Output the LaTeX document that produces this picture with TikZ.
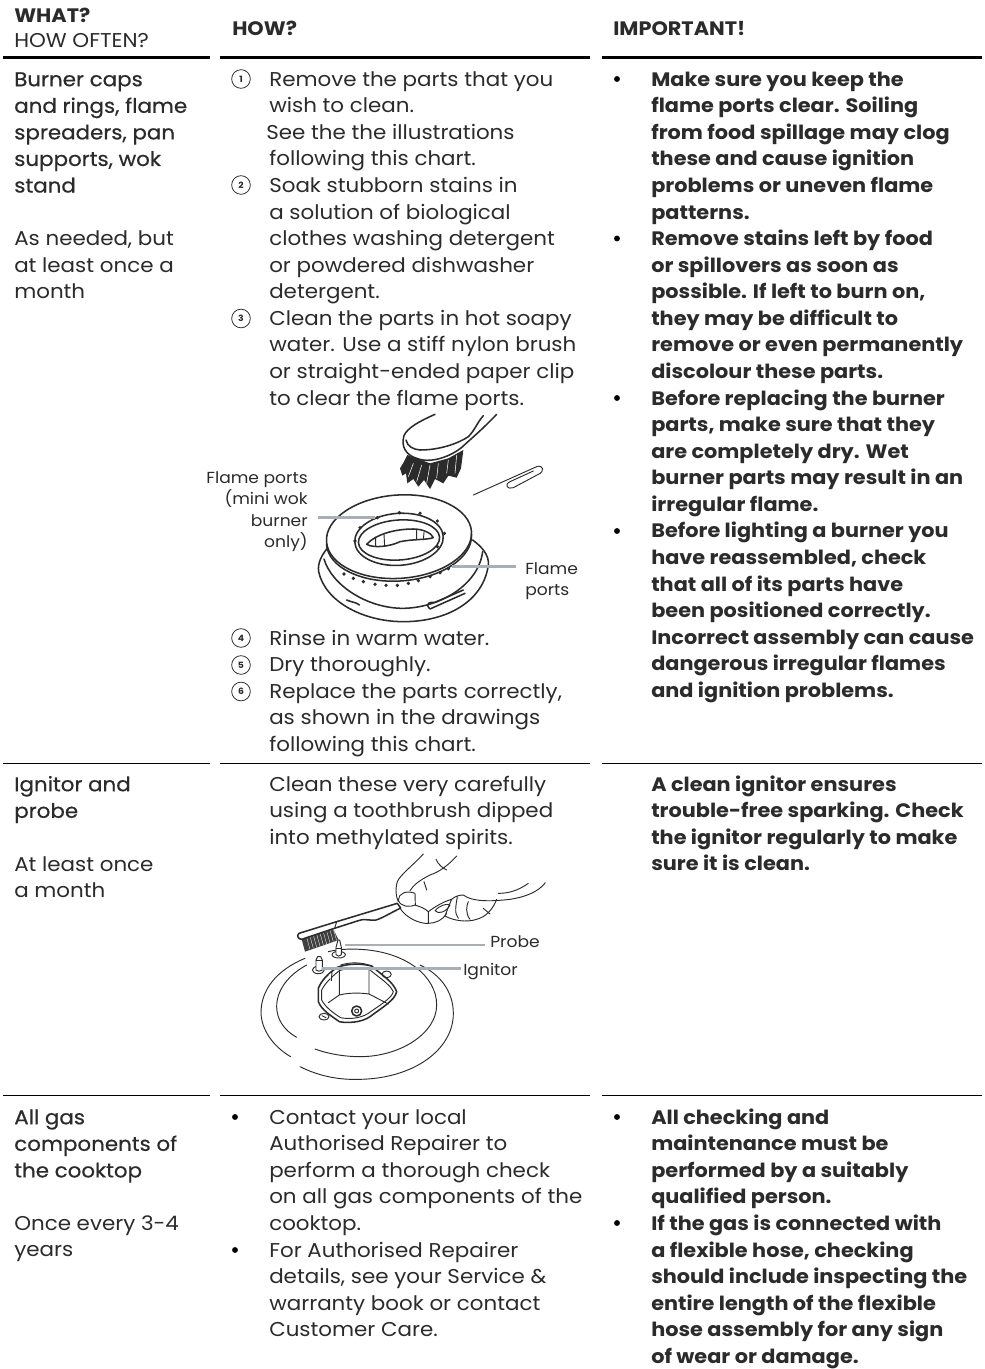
\documentclass[tikz,border=0pt]{standalone}
\usepackage{fontspec}
\setmainfont{Poppins}[FakeStretch=1.07]
\newcommand\st{\rule{0pt}{14pt}}
\newcommand\bodyf{\fontsize{15pt}{19.93pt}\selectfont}
\newcommand\boldf{\fontsize{14.6pt}{19.93pt}\selectfont\bfseries}
\newcommand\medf{\fontsize{15pt}{19.93pt}\selectfont\addfontfeature{FakeBold=0.5}}
\newcommand\lblf{\fontsize{12pt}{16pt}\selectfont}
\definecolor{ink}{HTML}{2B2B2B}
\definecolor{leader}{HTML}{A9B0B5}
\tikzset{
  x=0.75pt,y=-0.75pt,
  txt/.style={anchor=north west,inner sep=0pt,align=left,text=ink,font=\bodyf},
  med/.style={txt,font=\medf},
  bld/.style={txt,font=\boldf},
  heavy/.style={line width=2.3pt,black},
  thin rule/.style={line width=0.75pt,black},
  numc/.style={circle,draw=ink,line width=0.6pt,minimum size=14pt,inner sep=0pt,font=\fontsize{6.5pt}{7pt}\selectfont\bfseries,text=ink},
  bul/.style={circle,fill=black,minimum size=4.4pt,inner sep=0pt},
  lbl/.style={inner sep=0pt,text=ink,font=\lblf},
  lead/.style={line width=2pt,leader},
  art/.style={line width=1.15pt,ink,line cap=round,line join=round},
  fine/.style={line width=0.7pt,ink,line cap=round,line join=round},
  zoomA/.style={x=0.25pt,y=-0.25pt,xshift=150pt,yshift=-303.75pt},
  zoomB/.style={x=0.25pt,y=-0.25pt,xshift=187.5pt,yshift=-637.5pt},
}
\begin{document}
\begin{tikzpicture}
\useasboundingbox[fill=white] (0,0) rectangle (984,1369);
% rules
\coordinate (h1a) at (3,57.5); \coordinate (h1b) at (210,57.5);
\coordinate (h2a) at (220,57.5); \coordinate (h2b) at (590,57.5);
\coordinate (h3a) at (602,57.5); \coordinate (h3b) at (982,57.5);
\draw[heavy] (h1a)--(h1b); \draw[heavy] (h2a)--(h2b); \draw[heavy] (h3a)--(h3b);
\coordinate (r1a) at (3,763); \coordinate (r1b) at (210,763);
\coordinate (r2a) at (220,763); \coordinate (r2b) at (590,763);
\coordinate (r3a) at (602,763); \coordinate (r3b) at (982,763);
\draw[thin rule] (r1a)--(r1b); \draw[thin rule] (r2a)--(r2b); \draw[thin rule] (r3a)--(r3b);
\coordinate (s1a) at (3,1095.5); \coordinate (s1b) at (210,1095.5);
\coordinate (s2a) at (220,1095.5); \coordinate (s2b) at (590,1095.5);
\coordinate (s3a) at (602,1095.5); \coordinate (s3b) at (982,1095.5);
\draw[thin rule] (s1a)--(s1b); \draw[thin rule] (s2a)--(s2b); \draw[thin rule] (s3a)--(s3b);
% headers
\node[bld] (hwhat) at (14,4) {\st WHAT?};
\node[txt] (hoften) at (14,29) {\st HOW OFTEN?};
\node[bld] (hhow) at (232,16.3) {\st HOW?};
\node[bld] (himp) at (613,16.3) {\st IMPORTANT!};
% column 1
\node[med] (w1) at (14,67.3) {\st Burner caps\\and rings, flame\\spreaders, pan\\supports, wok\\stand};
\node[txt] (o1) at (14,226.8) {\st As needed, but\\at least once a\\month};
\node[med] (w2) at (14,772.3) {\st Ignitor and\\probe};
\node[txt] (o2) at (14,852.3) {\st At least once\\a month};
\node[med] (w3) at (14,1105.3) {\st All gas\\components of\\the cooktop};
\node[txt] (o3) at (14,1211.3) {\st Once every 3-4\\years};
% column 2
\node[txt] (how1) at (269,67.3) {\st Remove the parts that you\\wish to clean.\\\hspace*{-2.2pt}See the the illustrations\\following this chart.\\Soak stubborn stains in\\a solution of biological\\clothes washing detergent\\or powdered dishwasher\\detergent.\\Clean the parts in hot soapy\\water. Use a stiff nylon brush\\or straight-ended paper clip\\to clear the flame ports.};
\node[numc] (n1) at (241,79) {1};
\node[numc] (n2) at (241,185) {2};
\node[numc] (n3) at (241,318.5) {3};
\node[txt] (how2) at (269,626.3) {\st Rinse in warm water.\\Dry thoroughly.\\Replace the parts correctly,\\as shown in the drawings\\following this chart.};
\node[numc] (n4) at (241,638) {4};
\node[numc] (n5) at (241,665) {5};
\node[numc] (n6) at (241,691.5) {6};
\node[txt] (how3) at (269,772.3) {\st Clean these very carefully\\using a toothbrush dipped\\into methylated spirits.};
\node[txt] (how4) at (269,1105.3) {\st Contact your local\\Authorised Repairer to\\perform a thorough check\\on all gas components of the\\cooktop.\\For Authorised Repairer\\details, see your Service \&\\warranty book or contact\\Customer Care.};
\node[bul] (b21) at (235,1117) {};
\node[bul] (b22) at (235,1250) {};
% column 3
\node[bld] (imp1) at (651,67.3) {\st Make sure you keep the\\flame ports clear. Soiling\\from food spillage may clog\\these and cause ignition\\problems or uneven flame\\patterns.\\Remove stains left by food\\or spillovers as soon as\\possible. If left to burn on,\\they may be difficult to\\remove or even permanently\\discolour these parts.\\Before replacing the burner\\parts, make sure that they\\are completely dry. Wet\\burner parts may result in an\\irregular flame.\\Before lighting a burner you\\have reassembled, check\\that all of its parts have\\been positioned correctly.\\Incorrect assembly can cause\\dangerous irregular flames\\and ignition problems.};
\node[bul] (b31) at (617,79) {};
\node[bul] (b32) at (617,238.5) {};
\node[bul] (b33) at (617,398) {};
\node[bul] (b34) at (617,531) {};
\node[bld] (imp2) at (651,772.3) {\st A clean ignitor ensures\\trouble-free sparking. Check\\the ignitor regularly to make\\sure it is clean.};
\node[bld] (imp3) at (651,1105.3) {\st All checking and\\maintenance must be\\performed by a suitably\\qualified person.\\If the gas is connected with\\a flexible hose, checking\\should include inspecting the\\entire length of the flexible\\hose assembly for any sign\\of wear or damage.};
\node[bul] (b35) at (617,1117) {};
\node[bul] (b36) at (617,1223) {};
% burner illustration
\begin{scope}[zoomA]
  % brush 1
  \fill[ink] (622,150) -- (612,170) -- (600,190) -- (607,212) -- (618,205) -- (622,235) -- (640,222) -- (655,245) -- (672,225) -- (690,252) -- (705,222) -- (730,235) -- (745,212) -- (770,218) -- (783,190) -- (790,135) -- (745,160) -- (690,175) -- cycle;
  \draw[white,line width=0.4pt] (640,175)--(625,215) (665,180)--(650,230) (690,180)--(680,235) (715,175)--(710,220) (745,165)--(740,205) (770,150)--(765,205);
  \draw[art,fill=white] (705,28) .. controls (660,48) and (622,68) .. (612,92) .. controls (602,125) and (618,150) .. (650,160) .. controls (700,180) and (770,145) .. (795,118) .. controls (815,100) and (850,70) .. (890,28);
  \draw[art] (850,32) .. controls (830,55) and (825,75) .. (805,95) .. controls (775,115) and (720,135) .. (660,135) .. controls (640,133) and (622,125) .. (618,105);
  % paper clip
  \draw[fine] (820,270) -- (1010,185) .. controls (1030,178) and (1035,200) .. (1015,208) -- (940,248) .. controls (922,255) and (912,238) .. (930,230) -- (1000,198);
  % cap
  \draw[art,rotate around={4:(597,395)}] (597,395) ellipse [x radius=218,y radius=125];
  \draw[art,rotate around={4:(597,403)}] (379,403) arc [start angle=180,end angle=0,x radius=218,y radius=125];
  \draw[art,rotate around={4:(597,403)}] (597,403) ellipse [x radius=133,y radius=78];
  \draw[art,rotate around={4:(597,405)}] (597,405) ellipse [x radius=122,y radius=60];
  \draw[art,fill=white] (500,418) .. controls (525,390) and (580,372) .. (640,372) .. controls (670,372) and (695,385) .. (700,398) .. controls (680,405) and (640,402) .. (600,410) .. controls (570,425) and (520,430) .. (500,418) -- cycle;
  \draw[fine] (527,396)--(527,422) (552,388)--(554,425) (650,376)--(650,404) (672,382)--(670,404);
  \foreach \kx/\ky in {480/368,532/338,598/323,660/325,712/348,733/385,465/408,712/425}
    \fill[ink] (\kx,\ky) circle [radius=5.5];
  \foreach \kx/\ky in {432/507,460/520,490/530,525/538,558/541,592/541,625/535,655/527,690/515,720/503,745/491}
    \fill[ink] (\kx,\ky) circle [radius=5.5];
  % skirt
  \draw[art] (382,430) .. controls (365,450) and (352,475) .. (356,500) .. controls (375,590) and (490,650) .. (610,650) .. controls (740,650) and (850,590) .. (865,480) .. controls (868,450) and (845,425) .. (818,405);
  \draw[art] (372,462) .. controls (395,540) and (500,610) .. (610,610) .. controls (720,608) and (835,540) .. (848,440);
  \draw[art] (440,585) .. controls (455,592) and (470,592) .. (478,600);
  \draw[art] (688,610) .. controls (675,595) and (690,590) .. (705,592) -- (790,555);
  \draw[art] (690,612) -- (795,565);
\end{scope}
\node[lbl,anchor=north east,align=right] (lf1) at (308,468.5) {\rule{0pt}{11pt}Flame ports\\(mini wok\\burner\\only)};
\node[lbl,anchor=north west,align=left] (lf2) at (525,559.5) {\rule{0pt}{11pt}Flame\\ports};
\coordinate (lf1a) at (318,517.5); \coordinate (lf1b) at (375,517.5);
\coordinate (lf2a) at (516,566.5); \coordinate (lf2b) at (452,566.5);
\draw[lead] (lf1a)--(lf1b); \draw[lead] (lf2a)--(lf2b);
% ignitor illustration
\begin{scope}[zoomB]
  % base
  \draw[fine] (165,325) .. controls (80,360) and (32,420) .. (33,490) .. controls (35,540) and (70,590) .. (122,620);
  \draw[fine] (150,650) .. controls (210,680) and (270,690) .. (330,688) .. controls (490,685) and (610,600) .. (610,490) .. controls (610,420) and (565,370) .. (510,345);
  \draw[fine] (235,305) .. controls (260,298) and (300,296) .. (330,298) .. controls (470,305) and (560,380) .. (560,465) .. controls (560,550) and (450,620) .. (330,620) .. controls (285,620) and (235,612) .. (195,597);
  \draw[fine] (140,562) .. controls (100,540) and (80,505) .. (80,470) .. controls (80,420) and (115,375) .. (170,345);
  % central opening
  \draw[art] (205,415) .. controls (215,390) and (235,370) .. (262,352) .. controls (295,340) and (335,340) .. (365,348) .. controls (395,375) and (430,395) .. (440,425) .. controls (435,450) and (400,470) .. (360,500) .. controls (335,518) and (290,520) .. (268,515) .. controls (240,495) and (215,480) .. (205,455) -- cycle;
  \draw[fine] (215,420) .. controls (225,400) and (245,380) .. (268,362) .. controls (295,352) and (335,352) .. (358,358) .. controls (385,382) and (418,400) .. (430,425) .. controls (425,445) and (390,465) .. (355,490) .. controls (330,506) and (295,508) .. (272,503) .. controls (248,488) and (225,470) .. (215,450) -- cycle;
  \draw[fine] (268,362)--(268,435)--(235,458) (357,358)--(357,432)--(415,462) (268,435) .. controls (295,428) and (330,428) .. (357,432);
  \draw[fine] (272,345) .. controls (300,336) and (335,336) .. (365,348);
  \draw[art] (320,483) circle [radius=15];
  \draw[fine] (320,483) circle [radius=6];
  \draw[fine] (222,500) ellipse [x radius=15,y radius=10];
  \draw[fine] (216,497)--(228,503);
  \draw[fine] (410,373) ellipse [x radius=14,y radius=10];
  \draw[fine,fill=white] (236,372) -- (246,365) -- (244,392);
  % ignitor and probe
  \draw[fine] (205,360) ellipse [x radius=18,y radius=11];
  \draw[fine,fill=white] (198,360) -- (198,330) -- (203,320) -- (212,320) -- (217,330) -- (217,360) .. controls (212,365) and (202,365) .. (198,360);
  \draw[fine] (198,331)--(217,331);
  \draw[fine] (266,314) ellipse [x radius=20,y radius=10];
  \draw[fine,fill=white] (258,314) -- (258,292) -- (264,270) -- (269,270) -- (274,292) -- (274,314) .. controls (270,320) and (262,320) .. (258,314);
  \draw[fine] (258,294)--(274,294);
  % toothbrush
  \fill[ink!90] (155,268) -- (250,238) -- (266,270) -- (165,305) -- cycle;
  \foreach \i in {1,...,9} \draw[white,line width=0.25pt] ({160+\i*10},{265-\i*3.1}) -- ({170+\i*10},{302-\i*3.4});
  \draw[art,fill=white] (147,250) -- (260,215) -- (442,160) -- (452,174) .. controls (420,190) and (395,205) .. (378,210) .. controls (355,212) and (340,205) .. (325,212) -- (250,236) -- (155,268) .. controls (143,268) and (140,255) .. (147,250) -- cycle;
  \draw[fine] (260,215)--(254,235);
  % hand
  \draw[fine] (520,12) .. controls (490,45) and (450,75) .. (442,95) .. controls (435,120) and (438,140) .. (445,155);
  \draw[fine] (445,150) .. controls (445,130) and (470,120) .. (495,130) -- (496,165) .. controls (480,172) and (452,172) .. (445,150);
  \draw[fine] (450,175) .. controls (470,205) and (510,222) .. (535,220) .. controls (555,220) and (580,210) .. (590,190);
  \draw[fine] (495,165) .. controls (510,170) and (525,175) .. (535,185) -- (535,220);
  \draw[fine] (535,185) .. controls (555,170) and (580,155) .. (605,148) .. controls (595,170) and (590,185) .. (585,198) .. controls (610,212) and (650,218) .. (680,208) .. controls (710,200) and (730,175) .. (740,148);
  \draw[fine] (555,182) .. controls (570,165) and (590,160) .. (600,165) .. controls (590,185) and (565,195) .. (555,182);
  \draw[fine] (605,148) .. controls (615,138) and (630,135) .. (640,135) .. controls (665,155) and (720,155) .. (780,148) .. controls (830,140) and (865,125) .. (886,98);
  \draw[fine] (622,140) .. controls (618,165) and (612,190) .. (625,205);
  \draw[fine] (660,208) .. controls (645,190) and (650,165) .. (655,155);
  \draw[fine] (700,175) -- (720,192);
  \draw[fine] (620,18) .. controls (595,45) and (570,65) .. (540,75) .. controls (510,90) and (490,105) .. (480,122);
  \draw[fine] (558,28) .. controls (565,45) and (580,55) .. (590,60);
  \draw[fine] (522,95) -- (530,120);
  \draw[fine] (835,100) .. controls (800,125) and (770,130) .. (745,130);
\end{scope}
\node[lbl,anchor=base west] (lprobe) at (490,947.5) {Probe};
\node[lbl,anchor=base west] (lign) at (463,975.5) {Ignitor};
\coordinate (lprobeb) at (345,945); \coordinate (lprobea) at (485,945);
\coordinate (ligna) at (461,968.5); \coordinate (lignb) at (322,968.5);
\draw[lead] (lprobea)--(lprobeb); \draw[lead] (ligna)--(lignb);
\end{tikzpicture}
\end{document}
